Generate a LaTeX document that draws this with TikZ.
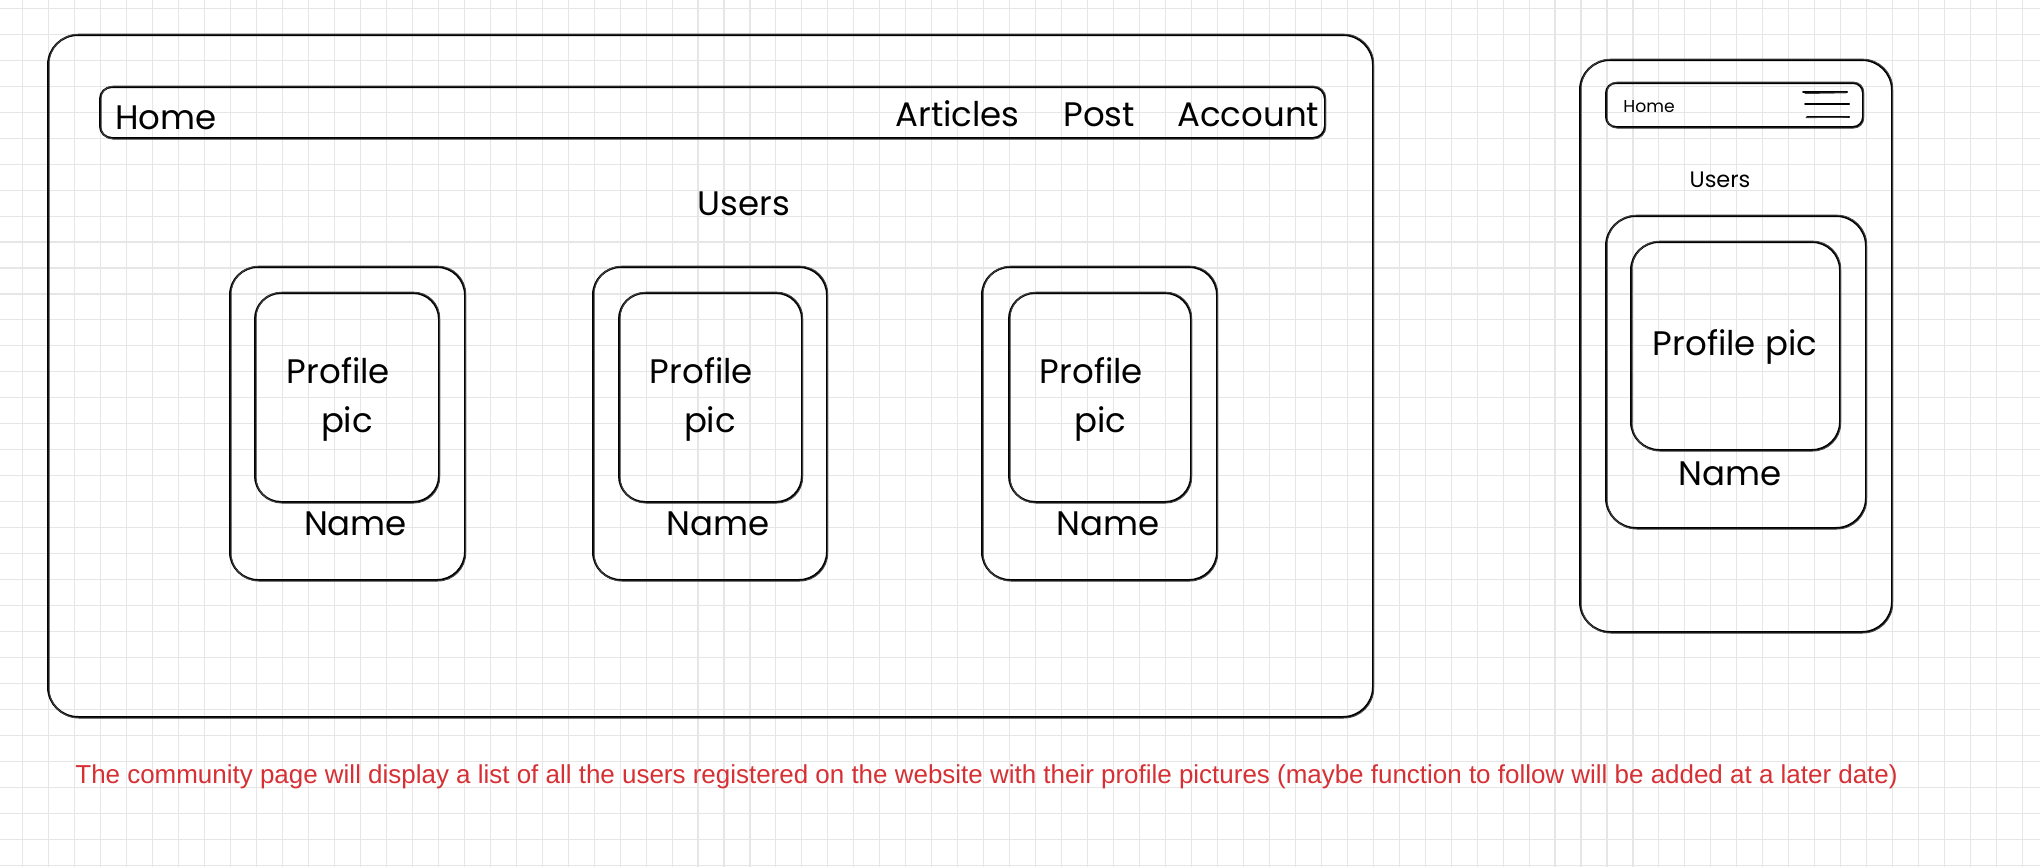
\documentclass[tikz,border=0pt]{standalone}
\usepackage{fontspec}
\setmainfont{Poppins}
\newfontfamily\notefont{Liberation Sans}
\definecolor{gridgray}{RGB}{230,230,230}
\definecolor{notered}{RGB}{214,48,52}

% rounded box drawn with a second, slightly shifted pass for a hand-drawn look
% args: x1, y1, x2, y2, corner radius
\newcommand{\sketchrect}[5]{%
  \draw[ink,rounded corners=#5] (#1,#2) rectangle (#3,#4);
  \draw[inkfaint,rounded corners=#5] (#1+1,#2-0.8) rectangle (#3+0.7,#4+1);
}

\begin{document}
\begin{tikzpicture}[x=0.5pt,y=-0.5pt,
  gridline/.style={draw=gridgray,line width=0.55pt},
  ink/.style={draw=black,line width=1pt,line join=round,line cap=round},
  inkfaint/.style={draw=black!75,line width=0.5pt,line join=round,line cap=round},
  hand/.style={inner sep=0pt,font=\fontsize{17}{20}\selectfont,text=black},
  handmid/.style={inner sep=0pt,font=\fontsize{11.2}{13}\selectfont,text=black},
  handtiny/.style={inner sep=0pt,font=\fontsize{8.6}{10}\selectfont,text=black},
  note/.style={inner sep=0pt,font=\notefont\fontsize{12.98}{15}\selectfont,text=notered}]

% canvas and grid paper
\fill[white] (0,0) rectangle (2040,867);
\useasboundingbox (0,0) rectangle (2040,867);
\foreach \k in {0,...,78} {
  \draw[gridline] ({22.8+25.97*\k},0) -- ({22.8+25.97*\k},867);
}
\foreach \k in {0,...,33} {
  \draw[gridline] (0,{8.3+25.97*\k}) -- (2040,{8.3+25.97*\k});
}

% ---------- desktop layout ----------
\sketchrect{48}{35}{1373}{717}{15pt}
\sketchrect{100}{87}{1325}{138}{6pt}
\node[hand,anchor=base west] (homeD) at (115,129) {Home};
\node[hand,anchor=base west] (articles) at (895,126) {Articles};
\node[hand,anchor=base west] (post) at (1063,126) {Post};
\node[hand,anchor=base west] (account) at (1177,126) {Account};
\node[hand,anchor=base] (usersD) at (744,215) {Users};

% user cards: outer left/right, inner left/right, text centres
\foreach \oL/\oR/\iL/\iR/\pc/\qc/\nc/\id in {
    230/465/255/439/338.5/347/355.5/a,
    593/827/619/802/701.5/710/718/b,
    982/1217/1009/1191/1091.5/1100/1108/c} {
  \sketchrect{\oL}{267}{\oR}{580}{14pt}
  \sketchrect{\iL}{293}{\iR}{502}{13pt}
  \node[hand,anchor=base] (prof-\id) at (\pc,383) {Profile};
  \node[hand,anchor=base] (pic-\id) at (\qc,432) {pic};
  \node[hand,anchor=base] (name-\id) at (\nc,535) {Name};
}

% ---------- mobile layout ----------
\sketchrect{1580}{60}{1892}{632}{15pt}
\sketchrect{1606}{83}{1863}{127}{5pt}
\node[handtiny,anchor=base west] (homeM) at (1623,112) {Home};
% menu icon
\draw[ink] (1803,92.3) -- (1847,92.3);
\draw[ink] (1805,104) -- (1849,104);
\draw[ink] (1807,116.7) -- (1849,116.7);
\draw[inkfaint] (1805,93.5) -- (1846,92.8);
\draw[inkfaint] (1806,117.6) -- (1848,117.2);
\node[handmid,anchor=base] (usersM) at (1720,187) {Users};
\sketchrect{1606}{216}{1866}{528}{15pt}
\sketchrect{1631}{242}{1840}{450}{14pt}
\node[hand,anchor=base] (profM) at (1735,355) {Profile pic};
\node[hand,anchor=base] (nameM) at (1730,485) {Name};

% ---------- note ----------
\node[note,anchor=base west] (note) at (75,783) {The community page will display a list of all the users registered on the website with their profile pictures (maybe function to follow will be added at a later date)};
\end{tikzpicture}
\end{document}
